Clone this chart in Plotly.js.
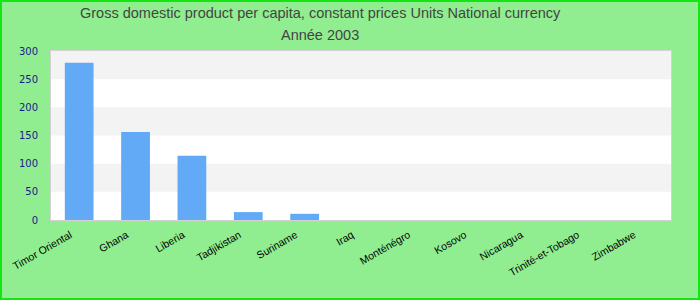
<!DOCTYPE html>
<html>
<head>
<meta charset="utf-8">
<script src="https://cdn.plot.ly/plotly-3.0.1.min.js"></script>
<style>
  html, body { margin: 0; padding: 0; background: #90ee90; }
  #wrap { position: relative; width: 700px; height: 300px; }
  #chart { width: 700px; height: 300px; }
  #frame { position: absolute; left: 0; top: 0; width: 700px; height: 300px; box-sizing: border-box; border: 2px solid #14e614; pointer-events: none; }
</style>
</head>
<body>
<div id="wrap"><div id="chart"></div><div id="frame"></div></div>
<script>
const countries = ["Timor Oriental", "Ghana", "Liberia", "Tadjikistan", "Suriname", "Iraq", "Monténégro", "Kosovo", "Nicaragua", "Trinité-et-Tobago", "Zimbabwe"];
const gdpValues = [279, 156, 114, 14, 11, 0, 0, 0, 0, 0, 0];
const yTicks = [0, 50, 100, 150, 200, 250, 300];
const bandStarts = [50, 150, 250];
const bandSize = 50;
const titleLines = ["Gross domestic product per capita, constant prices Units National currency", "Année 2003"];

const shapes = bandStarts.map(s => ({
  type: 'rect', xref: 'paper', yref: 'y', x0: 0, x1: 1, y0: s, y1: s + bandSize,
  fillcolor: '#f3f3f3', line: { width: 0 }, layer: 'below'
}));

const trace = {
  type: 'bar', x: countries, y: gdpValues,
  marker: { color: '#62a9f6' }, hoverinfo: 'x+y'
};

const titleFont = { family: 'Liberation Sans, Arial, sans-serif', size: 14.5, color: '#444444' };
const annotations = [
  { text: titleLines[0], xref: 'paper', yref: 'paper', x: 0.434, y: 1.2249, xanchor: 'center', yanchor: 'middle', showarrow: false, font: titleFont },
  { text: titleLines[1], xref: 'paper', yref: 'paper', x: 0.434, y: 1.0947, xanchor: 'center', yanchor: 'middle', showarrow: false, font: titleFont }
];

const layout = {
  width: 700, height: 300,
  paper_bgcolor: '#90ee90', plot_bgcolor: '#ffffff',
  margin: { l: 51, r: 29, t: 51, b: 80, pad: 0 },
  bargap: 0.49,
  showlegend: false,
  shapes: shapes,
  annotations: annotations,
  xaxis: {
    type: 'category', tickangle: -30, showgrid: false, zeroline: false,
    showline: true, mirror: true, linecolor: '#d3d3d3', linewidth: 1,
    ticks: '', ticklabelstandoff: 4, ticklabelshift: -9,
    tickfont: { family: 'Liberation Sans, Arial, sans-serif', size: 10.5, color: '#000000' },
    automargin: false
  },
  yaxis: {
    range: [0, 300], tickvals: yTicks, showgrid: false, zeroline: false,
    showline: true, mirror: true, linecolor: '#d3d3d3', linewidth: 1,
    ticks: '', ticklabelstandoff: 10,
    tickfont: { family: 'DejaVu Sans, sans-serif', size: 10, color: '#1a1a8c' },
    automargin: false
  }
};

Plotly.newPlot('chart', [trace], layout, { displayModeBar: false, staticPlot: true });
</script>
</body>
</html>
